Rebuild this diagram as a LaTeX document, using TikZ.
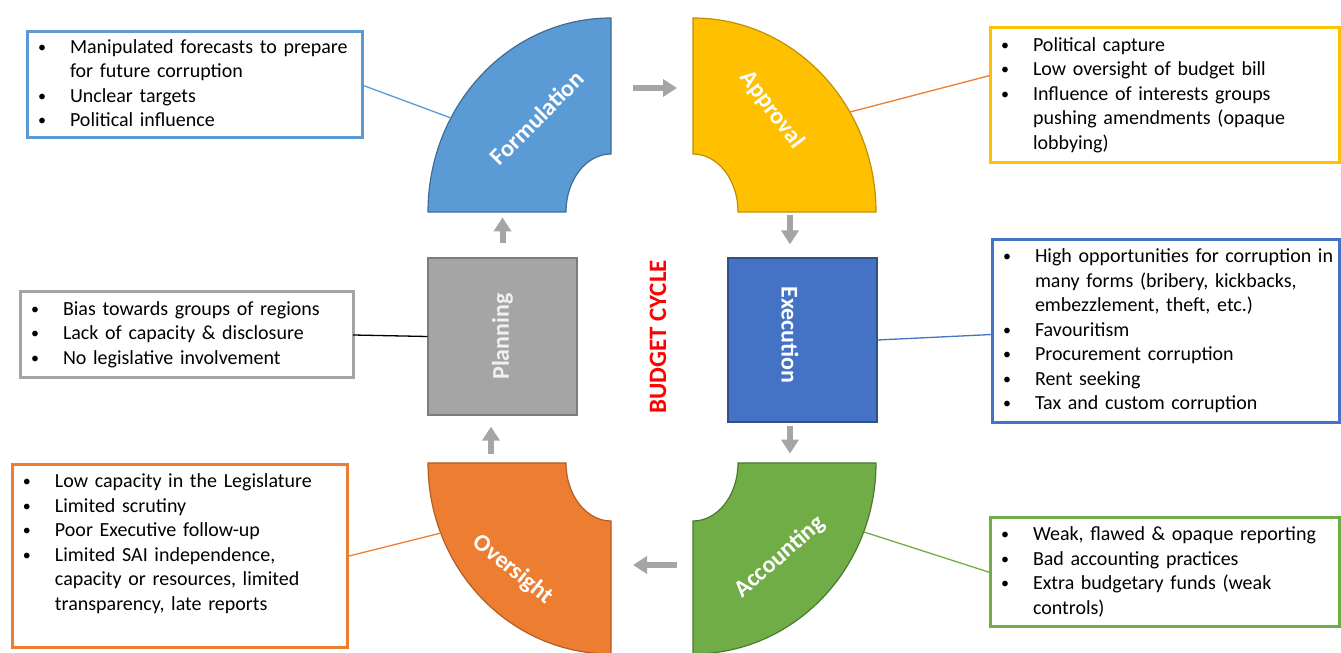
\documentclass[tikz,border=0pt]{standalone}
\usepackage{fontspec}
\setmainfont{Carlito}
\usetikzlibrary{arrows.meta}

\definecolor{formblue}{HTML}{5B9BD5}
\definecolor{apprgold}{HTML}{FFC000}
\definecolor{overorange}{HTML}{ED7D31}
\definecolor{accgreen}{HTML}{70AD47}
\definecolor{plangray}{HTML}{A5A5A5}
\definecolor{execblue}{HTML}{4472C4}
\definecolor{flowgray}{HTML}{A5A5A5}

\newcommand{\riskdot}{\raisebox{1pt}{\fontsize{16}{16}\selectfont\textbullet}}

\begin{document}
\begin{tikzpicture}[
        x=1pt, y=1pt,
        sector/.style={line width=1.2pt},
        stagebox/.style={draw, line width=1.2pt, minimum width=149pt, inner sep=0pt},
        stagelabel/.style={text=white, font=\fontsize{24}{28}\selectfont\bfseries},
        riskbox/.style={draw=#1, line width=3pt, fill=white, anchor=north west,
          outer sep=0pt, inner xsep=11pt, inner ysep=0pt, align=left,
          font=\fontsize{20}{24.5}\selectfont},
        link/.style={line width=1.3pt},
        flow/.style={draw=flowgray, line width=6pt, -{Triangle[length=14pt,width=17pt]}}
      ]
\useasboundingbox (0,0) rectangle (1341,653);

% Block arcs
        \draw[sector, fill=formblue, draw=formblue!70!black]
        (611,635) arc[start angle=90, end angle=180, x radius=183, y radius=194]
        -- (566,441) arc[start angle=180, end angle=90, x radius=45, y radius=58] -- cycle;
        \draw[sector, fill=apprgold, draw=apprgold!75!black]
        (693,635) arc[start angle=90, end angle=0, x radius=183, y radius=194]
        -- (738,441) arc[start angle=0, end angle=90, x radius=45, y radius=58] -- cycle;
        \draw[sector, fill=overorange, draw=overorange!75!black]
        (428,190) arc[start angle=180, end angle=270, x radius=183, y radius=191]
        -- (611,132) arc[start angle=270, end angle=180, x radius=45, y radius=58] -- cycle;
        \draw[sector, fill=accgreen, draw=accgreen!70!black]
        (876,190) arc[start angle=0, end angle=-90, x radius=183, y radius=191]
        -- (693,132) arc[start angle=-90, end angle=0, x radius=45, y radius=58] -- cycle;

        \coordinate (formulation-rim) at (451,535);
        \coordinate (approval-rim) at (850,541);
        \coordinate (oversight-rim) at (441,120);
        \coordinate (accounting-rim) at (864,121);

        \node[stagelabel, rotate=45] (formulation) at (537,535) {Formulation};
        \node[stagelabel, rotate=-53] (approval) at (772,543) {Approval};
        \node[stagelabel, rotate=-39] (oversight) at (513,83) {Oversight};
        \node[stagelabel, rotate=41] (accounting) at (780,96) {Accounting};

% Squares
        \node[stagebox, fill=plangray, draw=plangray!75!black, minimum height=157pt]
          (planning) at (502.5,316.5) {};
        \node[stagebox, fill=execblue, draw=execblue!70!black, minimum height=164pt]
          (execution) at (802.5,313) {};
        \node[stagelabel, text=gray!12, rotate=90] (planning-label) at (planning) {Planning};
        \node[stagelabel, rotate=-90] (execution-label) at (790,318) {Execution};

        \node[text=red, font=\fontsize{25}{30}\selectfont\bfseries, rotate=90]
          (cycle) at (658,316) {BUDGET CYCLE};

% Flow arrows
        \coordinate (top-gap-l) at (633,565);
        \coordinate (top-gap-r) at (677,565);
        \coordinate (bottom-gap-l) at (633,88);
        \coordinate (bottom-gap-r) at (677,88);
        \draw[flow] (top-gap-l) -- (top-gap-r);
        \draw[flow] ([xshift=-12.5pt,yshift=42pt]execution.north) -- ([xshift=-12.5pt,yshift=13pt]execution.north);
        \draw[flow] ([xshift=-12.5pt,yshift=-3pt]execution.south) -- ([xshift=-12.5pt,yshift=-31pt]execution.south);
        \draw[flow] (bottom-gap-r) -- (bottom-gap-l);
        \draw[flow] ([xshift=-11.5pt,yshift=-38pt]planning.south) -- ([xshift=-11.5pt,yshift=-11pt]planning.south);
        \draw[flow] ([yshift=14pt]planning.north) -- ([yshift=40pt]planning.north);

% Risk boxes
        \node[riskbox=formblue, text width=313pt, minimum height=106pt] (formulation-risks) at (27,621) {%
          \begin{tabular}{@{}p{32pt}@{}l@{}}
          \riskdot & Manipulated forecasts to prepare\\
                   & for future corruption\\
          \riskdot & Unclear targets\\
          \riskdot & Political influence
          \end{tabular}};
        \node[riskbox=apprgold, text width=327pt, minimum height=135pt] (approval-risks) at (990,625) {%
          \begin{tabular}{@{}p{32pt}@{}l@{}}
          \riskdot & Political capture\\
          \riskdot & Low oversight of budget bill\\
          \riskdot & Influence of interests groups\\
                   & pushing amendments (opaque\\
                   & lobbying)
          \end{tabular}};
        \node[riskbox=execblue, text width=325pt, minimum height=183pt] (execution-risks) at (992,413) {%
          \begin{tabular}{@{}p{32pt}@{}l@{}}
          \riskdot & High opportunities for corruption in\\
                   & many forms (bribery, kickbacks,\\
                   & embezzlement, theft, etc.)\\
          \riskdot & Favouritism\\
          \riskdot & Procurement corruption\\
          \riskdot & Rent seeking\\
          \riskdot & Tax and custom corruption
          \end{tabular}};
        \node[riskbox=plangray, text width=311pt, minimum height=86pt] (planning-risks) at (20,361) {%
          \begin{tabular}{@{}p{32pt}@{}l@{}}
          \riskdot & Bias towards groups of regions\\
          \riskdot & Lack of capacity \& disclosure\\
          \riskdot & No legislative involvement
          \end{tabular}};
        \node[riskbox=overorange, text width=313pt, minimum height=183pt] (oversight-risks) at (12,188) {%
          \begin{tabular}{@{}p{32pt}@{}l@{}}
          \riskdot & Low capacity in the Legislature\\
          \riskdot & Limited scrutiny\\
          \riskdot & Poor Executive follow-up\\
          \riskdot & Limited SAI independence,\\
                   & capacity or resources, limited\\
                   & transparency, late reports\\
                   &
          \end{tabular}};
        \node[riskbox=accgreen, text width=327pt, minimum height=109pt] (accounting-risks) at (990,135) {%
          \begin{tabular}{@{}p{32pt}@{}l@{}}
          \riskdot & Weak, flawed \& opaque reporting\\
          \riskdot & Bad accounting practices\\
          \riskdot & Extra budgetary funds (weak\\
                   & controls)
          \end{tabular}};

% Links
        \draw[link, formblue] (formulation-risks.east) -- (formulation-rim);
        \draw[link, overorange] ([yshift=20pt]approval-risks.west) -- (approval-rim);
        \draw[link, execblue] ([yshift=-3pt]execution-risks.west) -- (execution.east);
        \draw[link, black] (planning-risks.east) -- (planning.west);
        \draw[link, overorange] (oversight-risks.east) -- (oversight-rim);
        \draw[link, accgreen] (accounting-risks.west) -- (accounting-rim);

      \end{tikzpicture}
\end{document}
